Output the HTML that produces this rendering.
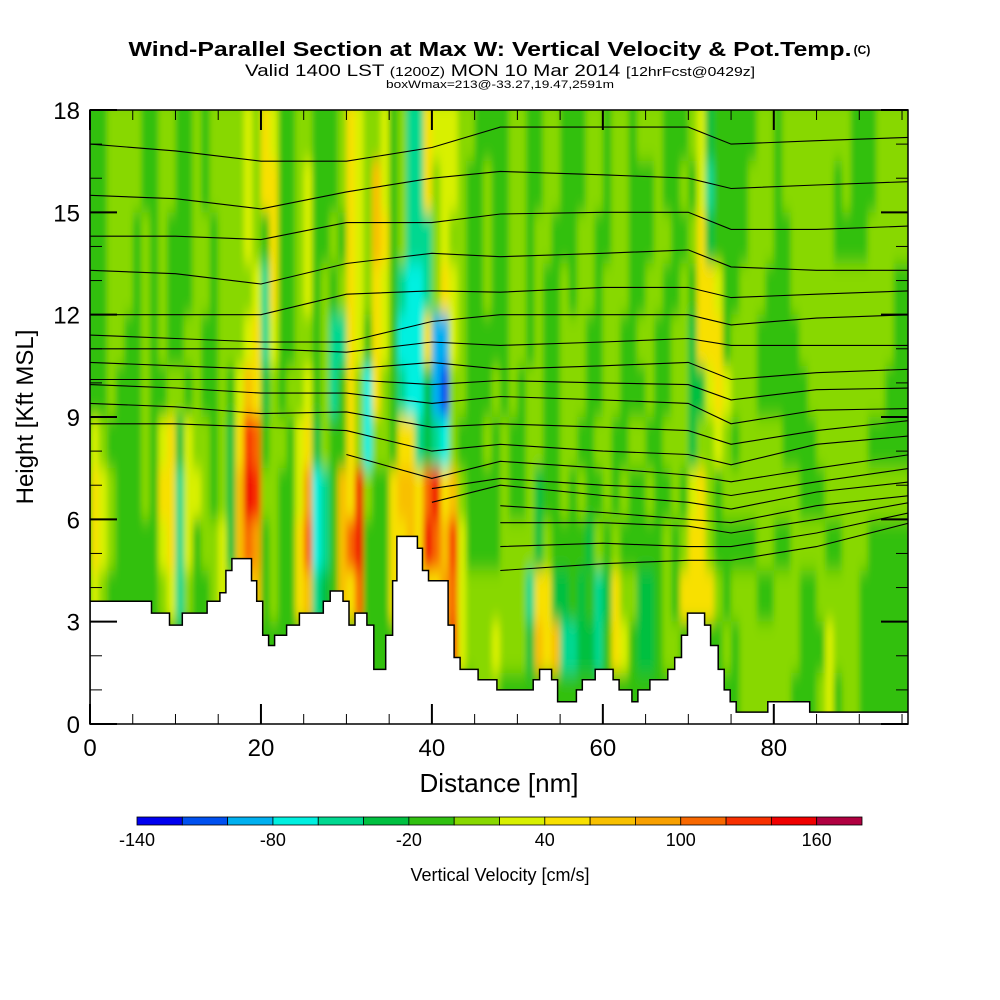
<!DOCTYPE html>
<html><head><meta charset="utf-8"><style>
html,body{margin:0;padding:0;background:#fff;}
svg{display:block;font-family:"Liberation Sans",sans-serif;}
</style></head><body>
<svg id="chart" width="1000" height="1000" viewBox="0 0 1000 1000">
<defs>
<clipPath id="plotclip"><rect x="90" y="110" width="818" height="614"/></clipPath>
<filter id="smooth" x="-5%" y="-5%" width="110%" height="110%"><feGaussianBlur stdDeviation="3 9"/></filter>
</defs>
<g>
<text x="490" y="56" text-anchor="middle" font-size="20" font-weight="bold" textLength="723" lengthAdjust="spacingAndGlyphs">Wind-Parallel Section at Max W: Vertical Velocity &amp; Pot.Temp.</text>
<text x="862" y="54" text-anchor="middle" font-size="12" font-weight="bold">(C)</text>
<text x="500" y="76" text-anchor="middle" font-size="17" textLength="510" lengthAdjust="spacingAndGlyphs">Valid 1400 LST <tspan font-size="13">(1200Z)</tspan> MON 10 Mar 2014 <tspan font-size="13">[12hrFcst@0429z]</tspan></text>
<text x="500" y="88" text-anchor="middle" font-size="11" textLength="228" lengthAdjust="spacingAndGlyphs">boxWmax=213@-33.27,19.47,2591m</text>
</g>
<rect x="90" y="110" width="818" height="614" fill="#30c010"/>
<g clip-path="url(#plotclip)">
<g id="heat" filter="url(#smooth)"></g>
<g id="contours"></g>
<path id="terrain" fill="#fff" stroke="#000" stroke-width="1.5"/>
</g>
<rect x="90" y="110" width="818" height="614" fill="none" stroke="#000" stroke-width="1.5"/>
<g id="axes"></g>
<text x="499" y="792" text-anchor="middle" font-size="26">Distance [nm]</text>
<text transform="translate(33,417) rotate(-90)" text-anchor="middle" font-size="24">Height [Kft MSL]</text>
<g id="colorbar"></g>
<text x="500" y="881" text-anchor="middle" font-size="18">Vertical Velocity [cm/s]</text>
</svg>
<script>
// ---- data ----
const levelColors = ["#0000f0","#0050f0","#00b0f0","#00f0e0","#00d890","#00c040","#30c010","#88d800","#d8f000","#f8e000","#f8c000","#f8a000","#f86800","#f83000","#f00000","#b00040"];
const levelBounds = [-140,-120,-100,-80,-60,-40,-20,0,20,40,60,80,100,120,140,160,180];
const colorbarLabels = [-140,-80,-20,40,100,160];
const xTicks = [0,20,40,60,80];
const yTicks = [0,3,6,9,12,15,18];
const gridRowKft = 1.5;
const gridColNm = 1;
const wGrid = [
"66777766 77667677 77879866 77666798 77867449 88877666 67766776 66776776 77766678 56666677 67777777 76667777",
"66777766 77667677 77879966 78666798 7a867449 78876676 67766776 66776776 66766768 46666777 67777776 76667777",
"66777676 76667767 77876966 78667698 7a967444 78776676 67767766 67766776 66776679 56666777 66777776 66677777",
"66777676 76667767 77784966 78676798 79864334 79876676 67767667 67767776 67766769 98667776 66777777 77777766",
"66776676 76677667 77894866 77674498 69863339 22876666 67767667 77667766 77667759 99677766 66677777 77777766",
"66766676 67767667 68a95767 78674697 39764335 21776667 67677667 77667766 67667755 89877766 66667777 77777666",
"87666676 89587767 59dc6776 89576697 37769945 43766676 76677667 76677667 76677757 78767777 76666777 77766666",
"98766676 99488767 5aed7766 8b346a9e 7669aa9c e9a76666 76675667 67667676 67667689 76777777 77766677 77777777",
"98766666 89486778 5acb6766 9c346ace 66699a9e cad86666 77775766 66576766 66676799 76666677 66777766 77766666",
"87666666 78476678 7a9a6766 9a456a9c 66699999 9bc87777 77749955 65645977 55676999 97677766 77766777 77666666",
"66666666 66666666 66666666 66666666 66666666 66d87778 7775a9a4 45546986 55677666 66767777 77766687 77666666",
"66666666 66666666 66666666 66666666 66666666 66666777 66666666 66666666 66666666 66667777 77666786 77666666"
];
const terrainNm = [0,7.2,9.3,10.8,13.7,15.2,15.9,16.6,18.9,19.5,20.2,20.9,21.6,23.0,24.5,27.3,28.1,29.6,30.3,31.0,32.4,33.2,34.6,35.4,35.9,38.3,38.9,39.6,41.9,42.6,43.3,45.4,47.6,51.85,52.6,54.0,54.7,56.9,57.6,59.1,61.2,61.9,63.4,64.1,65.5,67.6,68.4,69.2,69.9,71.9,72.6,73.5,74.2,74.9,75.6,79.3,84.2];
const terrainKft = [3.6,3.25,2.9,3.25,3.6,3.85,4.5,4.85,4.2,3.6,2.6,2.3,2.6,2.9,3.25,3.6,3.9,3.6,2.9,3.25,2.9,1.6,2.6,4.2,5.5,5.15,4.5,4.2,2.9,1.95,1.6,1.3,1.0,1.3,1.6,1.3,0.65,1.0,1.3,1.6,1.3,1.0,0.65,1.0,1.3,1.6,1.95,2.6,3.25,2.9,2.3,1.6,1.0,0.65,0.35,0.65,0.35];
const contourNm = [0,10,20,30,40,48,60,70,75,85,96];
const thetaContours = [
[17.0,16.8,16.5,16.5,16.9,17.5,17.5,17.5,17.0,17.1,17.2],
[15.5,15.4,15.1,15.6,16.0,16.2,16.1,16.0,15.7,15.8,15.9],
[14.3,14.3,14.2,14.7,14.7,14.95,15.0,15.0,14.5,14.5,14.6],
[13.3,13.2,12.9,13.5,13.8,13.7,13.8,13.9,13.4,13.3,13.3],
[12.0,12.0,12.0,12.6,12.7,12.66,12.8,12.8,12.5,12.6,12.7],
[11.4,11.3,11.2,11.2,11.8,12.0,12.0,12.0,11.7,11.9,12.0],
[11.0,11.0,11.0,10.9,11.2,11.1,11.2,11.3,11.1,11.1,11.1],
[10.6,10.5,10.4,10.4,10.6,10.4,10.5,10.6,10.1,10.3,10.4],
[10.1,10.1,10.1,10.1,9.95,10.07,10.0,9.95,9.5,9.8,9.85],
[9.95,9.85,9.7,9.7,9.4,9.6,9.5,9.4,8.8,9.2,9.25],
[9.4,9.3,9.1,9.15,8.7,8.8,8.7,8.6,8.2,8.6,8.9],
[8.8,8.8,8.7,8.6,8.0,8.2,8.0,7.9,7.6,8.2,8.45],
[null,null,null,7.9,7.2,7.7,7.5,7.3,7.1,7.5,7.9],
[null,null,null,null,6.9,7.2,7.0,6.9,6.7,7.1,7.5],
[null,null,null,null,6.5,7.0,6.7,6.5,6.3,6.8,7.1],
[null,null,null,null,null,6.4,6.2,6.0,5.9,6.4,6.7],
[null,null,null,null,null,5.9,5.9,5.8,5.6,6.0,6.5],
[null,null,null,null,null,5.2,5.3,5.2,5.2,5.6,6.2],
[null,null,null,null,null,4.5,4.7,4.8,4.8,5.2,5.9]
];
// ---- scales ----
const X0=90, X1=908, Y0=724, Y1=110, XMAX=95.7, YMAX=18;
function xs(nm){return X0+nm*(X1-X0)/XMAX;}
function ys(k){return Y0-k*(Y0-Y1)/YMAX;}
const NS="http://www.w3.org/2000/svg";
function mk(tag,attrs,parent){const e=document.createElementNS(NS,tag);for(const k in attrs)e.setAttribute(k,attrs[k]);parent.appendChild(e);return e;}
// heatmap
const heat=document.getElementById('heat');
wGrid.forEach((rowStr,r)=>{
  const row=rowStr.replace(/ /g,'');
  for(let c=0;c<row.length;c++){
    const lv=parseInt(row[c],16);
    const x0=xs(c*gridColNm), x1=xs((c+1)*gridColNm);
    const yTop=ys(YMAX-r*gridRowKft), yBot=ys(YMAX-(r+1)*gridRowKft);
    const cell=mk('rect',{x:x0,y:yTop-(r===0?12:0),width:x1-x0+0.6,height:yBot-yTop+0.6+(r===0?12:0)+(r===wGrid.length-1?12:0),fill:levelColors[lv]},heat);
    
    
  }
});
// contours
const cg=document.getElementById('contours');
thetaContours.forEach(vals=>{
  let d='';
  vals.forEach((v,i)=>{ if(v===null) return; d+=(d?'L':'M')+xs(contourNm[i]).toFixed(1)+','+ys(v).toFixed(1); });
  const p=mk('path',{d:d,fill:'none',stroke:'#000','stroke-width':1.1},cg);
  
  
});
// terrain
let td='M'+xs(0)+','+(Y0+5);
for(let i=0;i<terrainNm.length;i++){
  const n2=i+1<terrainNm.length?terrainNm[i+1]:XMAX+2;
  td+='L'+xs(terrainNm[i]).toFixed(1)+','+ys(terrainKft[i]).toFixed(1)+'L'+xs(n2).toFixed(1)+','+ys(terrainKft[i]).toFixed(1);
}
td+='L'+xs(XMAX+2)+','+(Y0+5)+'Z';
document.getElementById('terrain').setAttribute('d',td);
// axes
const ax=document.getElementById('axes');
for(let n=0;n<=95;n+=5){
  const major=n%20===0, L=major?20:10, x=xs(n);
  const t1=mk('line',{x1:x,x2:x,y1:Y0,y2:Y0-L,stroke:'#000','stroke-width':major?2:1},ax);
  
  
  const t2=mk('line',{x1:x,x2:x,y1:Y1,y2:Y1+L,stroke:'#000','stroke-width':major?2:1},ax);
  
  
}
xTicks.forEach(n=>{
  const t=mk('text',{x:xs(n),y:756,'text-anchor':'middle','font-size':24},ax);
  t.textContent=n;
  
  
});
for(let k=0;k<=18;k++){
  const major=k%3===0, L=major?27:12, y=ys(k);
  const t1=mk('line',{x1:X0,x2:X0+L,y1:y,y2:y,stroke:'#000','stroke-width':major?2:1},ax);
  
  
  const t2=mk('line',{x1:X1,x2:X1-L,y1:y,y2:y,stroke:'#000','stroke-width':major?2:1},ax);
  
  
}
yTicks.forEach(k=>{
  const t=mk('text',{x:80,y:ys(k)+9,'text-anchor':'end','font-size':24},ax);
  t.textContent=k;
  
  
});
// colorbar
const cb=document.getElementById('colorbar');
const CB0=137, CB1=862;
function cbx(v){return CB0+(v-levelBounds[0])*(CB1-CB0)/(levelBounds[levelBounds.length-1]-levelBounds[0]);}
for(let i=0;i<levelColors.length;i++){
  const r=mk('rect',{x:cbx(levelBounds[i]),y:817,width:cbx(levelBounds[i+1])-cbx(levelBounds[i]),height:8,fill:levelColors[i],stroke:'#000','stroke-width':0.8},cb);
  
  
}
colorbarLabels.forEach(v=>{
  const t=mk('text',{x:cbx(v),y:846,'text-anchor':'middle','font-size':18},cb);
  t.textContent=v;
  
  
});
</script>
</body></html>
